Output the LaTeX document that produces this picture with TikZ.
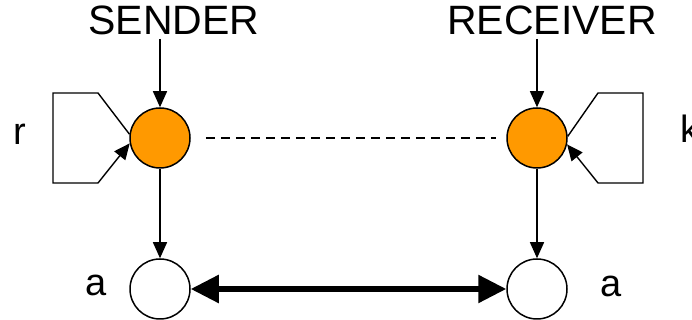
\documentclass[tikz,border=0pt]{standalone}
\usepackage{fontspec}
\setmainfont{Liberation Sans}
\usetikzlibrary{positioning,arrows.meta}

\definecolor{tokenorange}{RGB}{255,153,0}

\tikzstyle{place}=[circle,draw,line width=1.5pt,minimum size=60pt,inner sep=0pt]
\tikzstyle{token}=[place,fill=tokenorange]
\tikzstyle{role}=[font=\fontsize{41}{44}\selectfont,anchor=base]
\tikzstyle{var}=[font=\fontsize{38}{40}\selectfont,anchor=base]
\tikzstyle{pre}=[-{Triangle[length=16pt,width=14pt]},line width=1.4pt]
\tikzstyle{channel}=[{Triangle[length=28pt,width=27pt]}-{Triangle[length=28pt,width=27pt]},line width=5.5pt]

\begin{document}
\begin{tikzpicture}[x=1pt,y=1pt]
        \useasboundingbox (0,0) rectangle (692,320);

        \node[token] (snd) at (160,182)                         {};
        \node[token] (rcv) [right of=snd, node distance=377pt] {};
        \node[place] (sa)  [below of=snd, node distance=151pt] {};
        \node[place] (ra)  [below of=rcv, node distance=151pt] {};

        \node[role] (sender)   at (174,285) {SENDER};
        \node[role] (receiver) at (552,285) {RECEIVER};

        \node[var] (r)  at (20,175) {r};
        \node[var,anchor=base west] (k) at (677,177) {k};
        \node[var] (sval) at (96,24)  {a};
        \node[var] (rval) at (611,23) {a};

        % incoming control
        \draw[pre] (snd |- sender.south) -- (snd);
        \draw[pre] (rcv |- receiver.south) -- (rcv);

        % self loops
        \draw[pre] (snd.173) -- (98,227) -- (53,227) -- (53,137) -- (98,137) -- (snd.190);
        \draw[pre] (rcv.3) -- (598,227) -- (643,227) -- (643,137) -- (598,137) -- (rcv.-12);

        \draw[dash pattern=on 9pt off 6pt,line width=1.2pt,shorten <=15pt,shorten >=10pt] (snd) -- (rcv);

        \draw[pre] (snd) -- (sa);
        \draw[pre] (rcv) -- (ra);
        \draw[channel] (sa) -- (ra);
     \end{tikzpicture}
\end{document}
